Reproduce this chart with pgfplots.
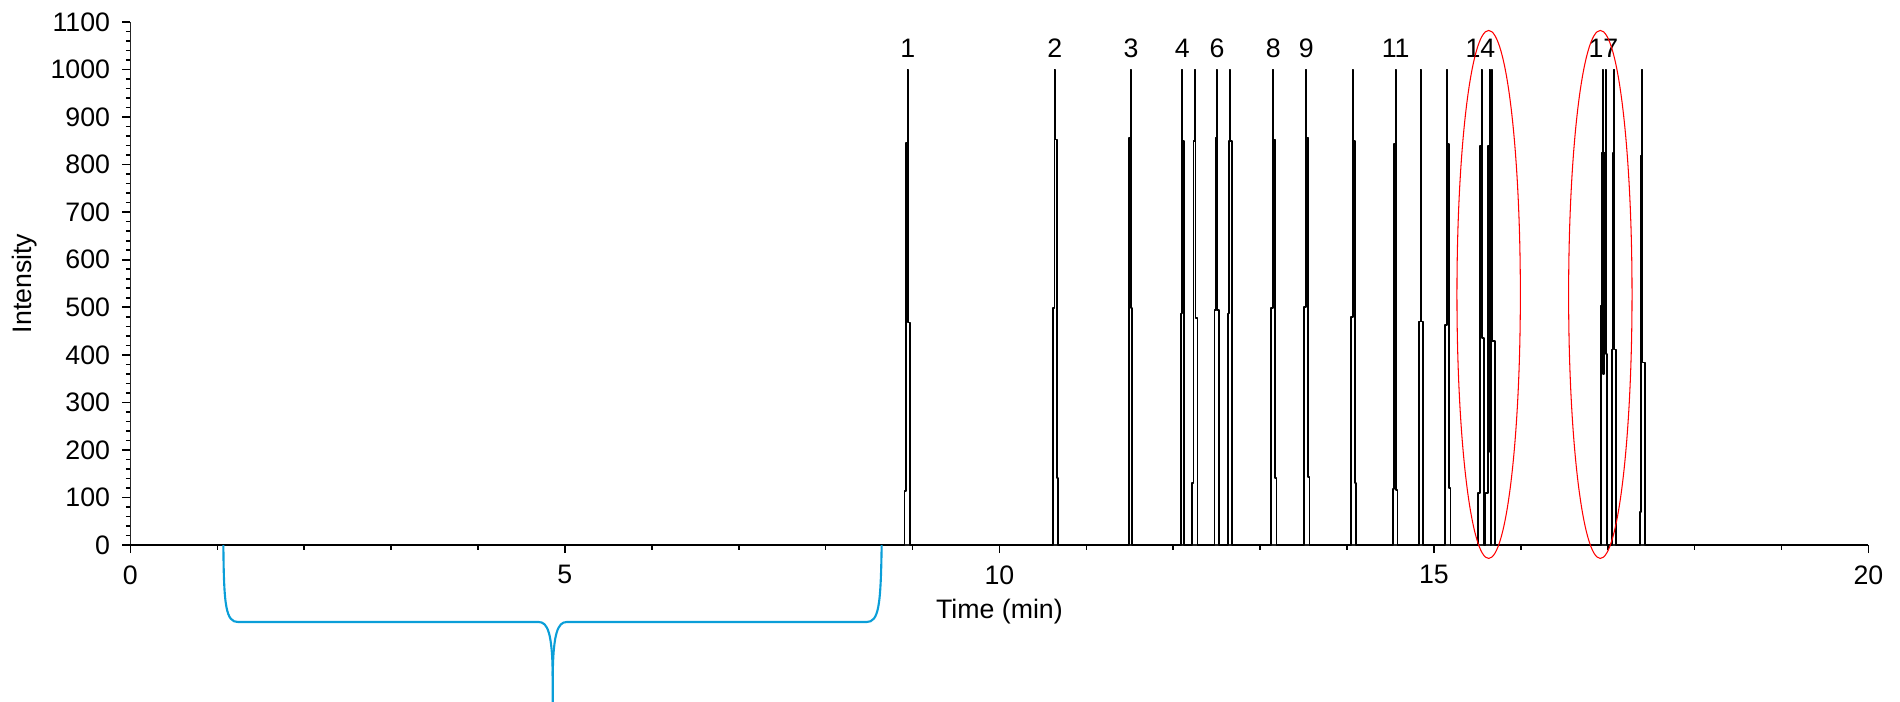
\documentclass[border=0pt]{standalone}
\usepackage{pgfplots}
\pgfplotsset{compat=1.18}
\usepackage{fontspec}
\setmainfont{Liberation Sans}
\definecolor{bracecol}{RGB}{10,158,216}
\begin{document}
\begin{tikzpicture}
\begin{axis}[
  scale only axis, width=17.38cm, height=5.23cm,
  xmin=0, xmax=20, ymin=0, ymax=1100,
  axis x line*=bottom, axis y line*=left,
  axis line style={-, line width=0.5pt, black!85},
  xtick={0,5,...,20}, ytick={0,100,...,1100},
  minor x tick num=4, minor y tick num=4,
  tick align=outside,
  major tick length=0.08cm, minor tick length=0.045cm,
  tick style={line width=0.45pt, black},
  /pgf/number format/assume math mode=true,
  /pgf/number format/1000 sep={},
  ticklabel style={font=\fontsize{7.6}{9}\selectfont},
  label style={font=\fontsize{7.6}{9}\selectfont},
  xlabel={Time (min)}, ylabel={Intensity},
  xlabel style={at={(axis description cs:0.5,-0.128)}, anchor=center},
  ylabel style={at={(axis description cs:-0.061,0.5)}, anchor=center},
  clip=false,
]
\coordinate (O) at (axis cs:0,0);
\addplot[black, line width=0.5pt, line join=bevel, mark=none] coordinates {
(0,0)
(8.909,0)(8.909,113)(8.923,113)(8.923,845)(8.943,845)(8.943,1000)(8.947,1000)(8.947,468)(8.970,468)(8.970,0)
(10.614,0)(10.614,498)(10.635,498)(10.635,1000)(10.639,1000)(10.639,853)(10.659,853)(10.659,141)(10.673,141)(10.673,0)
(11.492,0)(11.492,856)(11.513,856)(11.513,1000)(11.517,1000)(11.517,498)(11.530,498)(11.530,0)
(12.086,0)(12.086,487)(12.103,487)(12.103,1000)(12.107,1000)(12.107,849)(12.128,849)(12.128,0)
(12.219,0)(12.219,130)(12.233,130)(12.233,849)(12.253,849)(12.253,1000)(12.257,1000)(12.257,477)(12.280,477)(12.280,0)
(12.474,0)(12.474,495)(12.489,495)(12.489,857)(12.502,857)(12.502,1000)(12.506,1000)(12.506,495)(12.528,495)(12.528,0)
(12.627,0)(12.627,487)(12.643,487)(12.643,849)(12.652,849)(12.652,1000)(12.656,1000)(12.656,849)(12.674,849)(12.674,0)
(13.129,0)(13.129,498)(13.150,498)(13.150,1000)(13.154,1000)(13.154,853)(13.174,853)(13.174,141)(13.188,141)(13.188,0)
(13.509,0)(13.509,501)(13.530,501)(13.530,1000)(13.534,1000)(13.534,857)(13.554,857)(13.554,143)(13.568,143)(13.568,0)
(14.046,0)(14.046,480)(14.067,480)(14.067,1000)(14.071,1000)(14.071,849)(14.091,849)(14.091,130)(14.105,130)(14.105,0)
(14.527,0)(14.527,118)(14.541,118)(14.541,844)(14.562,844)(14.562,1000)(14.566,1000)(14.566,115)(14.581,115)(14.581,0)
(14.826,0)(14.826,470)(14.846,470)(14.846,1000)(14.850,1000)(14.850,470)(14.872,470)(14.872,0)
(15.131,0)(15.131,462)(15.152,462)(15.152,1000)(15.156,1000)(15.156,844)(15.176,844)(15.176,120)(15.190,120)(15.190,0)
(15.508,0)(15.508,110)(15.529,110)(15.529,840)(15.548,840)(15.548,1000)(15.552,1000)(15.552,436)(15.577,436)(15.577,0)
(15.594,0)(15.594,110)(15.620,110)(15.620,840)(15.640,840)(15.640,1000)(15.644,1000)(15.644,195)(15.650,195)(15.650,0)
(15.657,0)(15.657,840)(15.668,840)(15.668,1000)(15.672,1000)(15.672,429)(15.703,429)(15.703,0)
(16.923,0)(16.923,504)(16.929,504)(16.929,824)(16.944,824)(16.944,1000)(16.948,1000)(16.948,359)(16.954,359)(16.954,824)(16.962,824)(16.962,504)(16.962,824)(16.976,824)(16.976,1000)(16.980,1000)(16.980,402)(16.995,402)(16.995,0)
(17.053,0)(17.053,411)(17.058,411)(17.058,824)(17.074,824)(17.074,1000)(17.078,1000)(17.078,411)(17.099,411)(17.099,0)
(17.370,0)(17.370,70)(17.385,70)(17.385,819)(17.396,819)(17.396,1000)(17.400,1000)(17.400,384)(17.425,384)(17.425,0)
(20,0)
};
\begin{scope}[font=\fontsize{7.6}{9}\selectfont]
\node at (axis cs:8.945,1044) {1};
\node at (axis cs:10.637,1044) {2};
\node at (axis cs:11.515,1044) {3};
\node at (axis cs:12.105,1044) {4};
\node at (axis cs:12.504,1044) {6};
\node at (axis cs:13.152,1044) {8};
\node at (axis cs:13.532,1044) {9};
\node at (axis cs:14.56,1044) {11};
\node at (axis cs:15.535,1044) {14};
\node at (axis cs:16.95,1044) {17};
\end{scope}
\draw[red, line width=0.3pt] (axis cs:15.63,527) ellipse [x radius=0.317cm, y radius=2.64cm];
\draw[red, line width=0.3pt] (axis cs:16.915,527) ellipse [x radius=0.317cm, y radius=2.64cm];
\draw[bracecol, line width=0.6pt] (axis cs:1.07,0) .. controls (axis cs:1.075,-130) and (axis cs:1.10,-162) .. (axis cs:1.24,-162) -- (axis cs:4.70,-162) .. controls (axis cs:4.80,-162) and (axis cs:4.855,-185) .. (axis cs:4.86,-275) -- (axis cs:4.86,-340);
\draw[bracecol, line width=0.6pt] (axis cs:4.86,-275) .. controls (axis cs:4.865,-185) and (axis cs:4.92,-162) .. (axis cs:5.02,-162) -- (axis cs:8.47,-162) .. controls (axis cs:8.61,-162) and (axis cs:8.635,-130) .. (axis cs:8.645,0);
\end{axis}
\pgfresetboundingbox
\path[use as bounding box] ([shift={(-1.304cm,-1.56cm)}]O) rectangle ([shift={(17.696cm,5.45cm)}]O);
\end{tikzpicture}
\end{document}
